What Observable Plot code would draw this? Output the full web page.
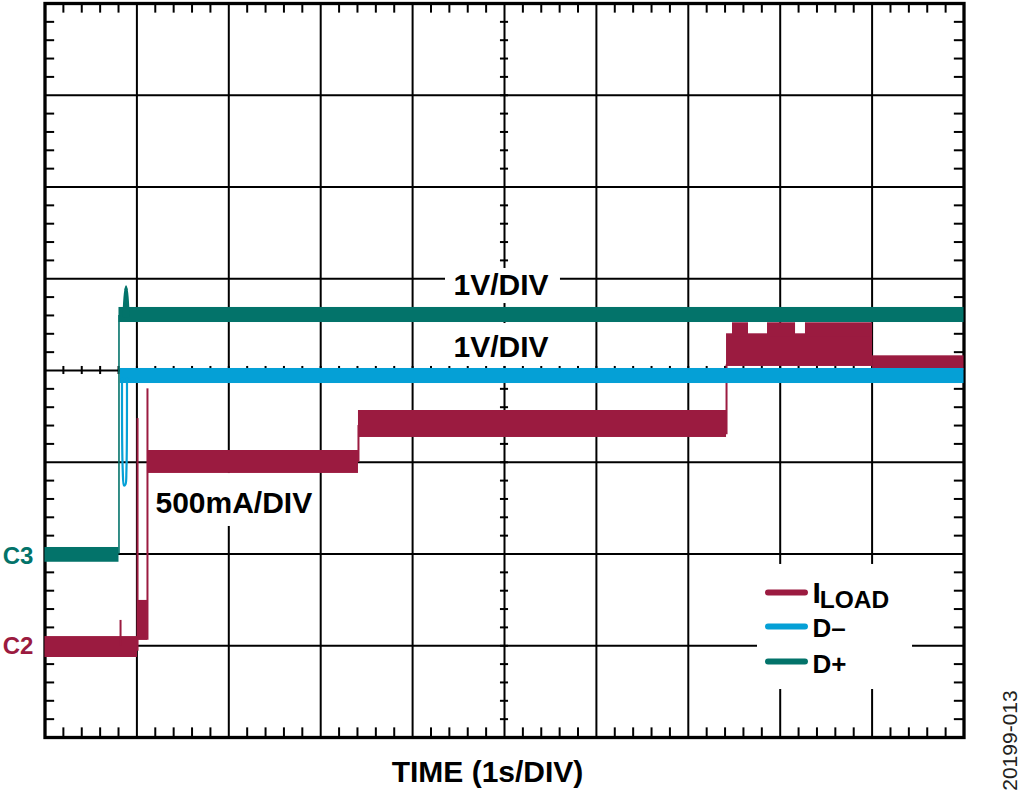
<!DOCTYPE html>
<html>
<head>
<meta charset="utf-8">
<script src="https://cdn.jsdelivr.net/npm/d3@7"></script>
<script src="https://cdn.jsdelivr.net/npm/@observablehq/plot@0.6"></script>
<style>
  html, body { margin: 0; padding: 0; background: #fff; }
  #chart svg { display: block; }
</style>
</head>
<body>
<div id="chart"></div>
<script>
// ---------------- DATA ----------------
// Screen: 10 horizontal divisions (1 s/DIV), 8 vertical divisions.
const TIME_DIVS = [0, 1, 2, 3, 4, 5, 6, 7, 8, 9, 10];      // s
const AMPL_DIVS = [0, 1, 2, 3, 4, 5, 6, 7, 8];
const C2_OFFSET = 1;      // I_LOAD ground marker (divisions from bottom)
const C3_OFFSET = 2;      // D+ ground marker
const DM_OFFSET = 2;      // D– reference
const A_PER_DIV = 0.5;    // 500 mA/DIV
const V_PER_DIV = 1;      // 1 V/DIV

// I_LOAD noise envelope: [t start (s), t end (s), min (A), max (A)]
const iloadBands = [
  [0.000, 1.007, -0.064, 0.050],
  [1.007, 1.115,  0.029, 0.247],
  [1.115, 3.411,  0.939, 1.064],
  [3.411, 7.416,  1.135, 1.282],
  [7.416, 9.005,  1.522, 1.700],
  [7.481, 7.655,  1.680, 1.760],
  [7.862, 8.167,  1.680, 1.760],
  [8.275, 9.005,  1.680, 1.760],
  [9.005, 10.000, 1.500, 1.580]
];
// I_LOAD thin transients: [t (s), from (A), to (A)]
const iloadEdges = [
  [0.822, 0.000, 0.138],
  [1.007, -0.030, 1.238],
  [1.115, 0.030, 1.400],
  [3.411, 1.000, 1.200],
  [7.416, 1.150, 1.530]
];
// D+ noise envelope: [t start, t end, min (V), max (V)]
const dplusBands = [
  [0.000, 0.805, -0.090, 0.071],
  [0.805, 10.000, 2.523, 2.687]
];
const dplusEdge = [[0.805, 0.000, 2.600]];
const dplusSpike = [[0.866, 2.60], [0.882, 2.905], [0.898, 2.60]];   // [t, V]
// D– noise envelope and dip
const dminusBands = [[0.820, 10.000, 1.858, 2.022]];
const dminusDip = [[0.838, 1.913], [0.846, 0.910], [0.860, 0.747], [0.876, 0.760], [0.886, 0.910], [0.892, 1.913]];

const SERIES = ["ILOAD", "D–", "D+"];
const COLORS = {"ILOAD": "#9b1b40", "D–": "#05a0d6", "D+": "#03736a"};

// minor tick positions (5 per division)
const minorX = d3.range(1, 50).filter(i => i % 5 !== 0).map(i => i / 5);
const minorY = d3.range(1, 40).filter(i => i % 5 !== 0).map(i => i / 5);
const minorXall = d3.range(1, 50).map(i => i / 5);
const minorYall = d3.range(1, 40).map(i => i / 5);

// ---------------- helpers ----------------
const iDiv = a => C2_OFFSET + a / A_PER_DIV;
const vDiv = v => C3_OFFSET + v / V_PER_DIV;
const dDiv = v => DM_OFFSET + v / V_PER_DIV;
const RED = COLORS["ILOAD"], BLUE = COLORS["D–"], TEAL = COLORS["D+"];
const FONT = "'Liberation Sans', Arial, Helvetica, sans-serif";
const TK = 0.105;   // edge tick length (div)
const CT = 0.044;   // centre-line tick half length (div)

// annotation layout (in division units)
const legendX1 = 7.873, legendX2 = 8.275, legendTextX = 8.351;
const legendY = [1.580, 1.210, 0.828];

const chart = Plot.plot({
  width: 1024,
  height: 794,
  marginLeft: 44.5,
  marginRight: 60.5,
  marginTop: 3,
  marginBottom: 57,
  x: {domain: [0, 10], axis: null},
  y: {domain: [0, 8], axis: null},
  style: {fontFamily: FONT, background: "#fff", overflow: "visible"},
  marks: [
    // grid
    Plot.ruleX(TIME_DIVS.slice(1, -1), {stroke: "#000", strokeWidth: 2}),
    Plot.ruleY(AMPL_DIVS.slice(1, -1), {stroke: "#000", strokeWidth: 2}),
    // minor ticks on edges
    Plot.ruleX(minorX, {y1: 8, y2: 8 - TK, stroke: "#000", strokeWidth: 2}),
    Plot.ruleX(minorX, {y1: 0, y2: TK, stroke: "#000", strokeWidth: 2}),
    Plot.ruleY(minorY, {x1: 0, x2: TK, stroke: "#000", strokeWidth: 2}),
    Plot.ruleY(minorY, {x1: 10 - TK, x2: 10, stroke: "#000", strokeWidth: 2}),
    // minor ticks on centre lines
    Plot.ruleX(minorXall, {y1: 4 - CT, y2: 4 + CT, stroke: "#000", strokeWidth: 2}),
    Plot.ruleY(minorYall, {x1: 5 - CT, x2: 5 + CT, stroke: "#000", strokeWidth: 2}),
    Plot.frame({stroke: "#000", strokeWidth: 3.3}),

    // white label backgrounds
    Plot.rect([[4.358, 5.609, 4.730, 5.112], [4.358, 5.609, 4.044, 4.512], [1.126, 2.955, 2.300, 2.877], [7.753, 9.440, 0.523, 1.886]],
      {x1: d => d[0], x2: d => d[1], y1: d => d[2], y2: d => d[3], fill: "#fff"}),

    // I_LOAD
    Plot.rect(iloadBands, {x1: d => d[0], x2: d => d[1], y1: d => iDiv(d[2]), y2: d => iDiv(d[3]), fill: RED}),
    Plot.ruleX(iloadEdges, {x: d => d[0], y1: d => iDiv(d[1]), y2: d => iDiv(d[2]), stroke: RED, strokeWidth: 2}),
    // D–
    Plot.rect(dminusBands, {x1: d => d[0], x2: d => d[1], y1: d => dDiv(d[2]), y2: d => dDiv(d[3]), fill: BLUE}),
    Plot.line(dminusDip, {x: d => d[0], y: d => dDiv(d[1]), stroke: BLUE, strokeWidth: 2.2, curve: "catmull-rom"}),
    // D+
    Plot.rect(dplusBands, {x1: d => d[0], x2: d => d[1], y1: d => vDiv(d[2]), y2: d => vDiv(d[3]), fill: TEAL}),
    Plot.ruleX(dplusEdge, {x: d => d[0], y1: d => vDiv(d[1]), y2: d => vDiv(d[2]), stroke: TEAL, strokeWidth: 1.6}),
    Plot.line(dplusSpike, {x: d => d[0], y: d => vDiv(d[1]), stroke: TEAL, strokeWidth: 4.2, strokeLinecap: "round", curve: "catmull-rom"}),

    // scale labels
    Plot.text(["1V/DIV"], {x: 4.962, y: 4.828, text: d => d, fontSize: 30, fontWeight: "bold", fill: "#000", lineAnchor: "bottom", textAnchor: "middle"}),
    Plot.text(["1V/DIV"], {x: 4.962, y: 4.142, text: d => d, fontSize: 30, fontWeight: "bold", fill: "#000", lineAnchor: "bottom", textAnchor: "middle"}),
    Plot.text(["500mA/DIV"], {x: 1.202, y: 2.452, text: d => d, fontSize: 30, fontWeight: "bold", fill: "#000", lineAnchor: "bottom", textAnchor: "start"}),
    // channel markers
    Plot.text(["C3"], {x: -0.294, y: 1.896, text: d => d, fontSize: 24, fontWeight: "bold", fill: TEAL, lineAnchor: "bottom", textAnchor: "middle"}),
    Plot.text(["C2"], {x: -0.294, y: 0.905, text: d => d, fontSize: 24, fontWeight: "bold", fill: RED, lineAnchor: "bottom", textAnchor: "middle"}),
    // axis title
    Plot.text(["TIME (1s/DIV)"], {x: 4.815, y: -0.490, text: d => d, fontSize: 30, fontWeight: "bold", fill: "#000", lineAnchor: "bottom", textAnchor: "middle"}),
    // figure code
    Plot.text(["20199-013"], {x: 10.505, y: -0.033, text: d => d, fontSize: 21, fill: "#231f20", rotate: -90, textAnchor: "middle", lineAnchor: "middle"}),

    // legend
    Plot.ruleY(SERIES, {x1: legendX1, x2: legendX2, y: (d, i) => legendY[i], stroke: d => COLORS[d], strokeWidth: 6, strokeLinecap: "round"}),
    Plot.text(["I"], {x: legendTextX, y: 1.471, text: d => d, fontSize: 30, fontWeight: "bold", fill: "#000", lineAnchor: "bottom", textAnchor: "start"}),
    Plot.text(["LOAD"], {x: 8.43, y: 1.406, text: d => d, fontSize: 24.5, fontWeight: "bold", fill: "#000", lineAnchor: "bottom", textAnchor: "start"}),
    Plot.text(["D–", "D+"], {x: legendTextX, y: (d, i) => [1.090, 0.698][i], text: d => d, fontSize: 26, fontWeight: "bold", fill: "#000", lineAnchor: "bottom", textAnchor: "start"})
  ]
});
document.getElementById("chart").appendChild(chart);
</script>
</body>
</html>
